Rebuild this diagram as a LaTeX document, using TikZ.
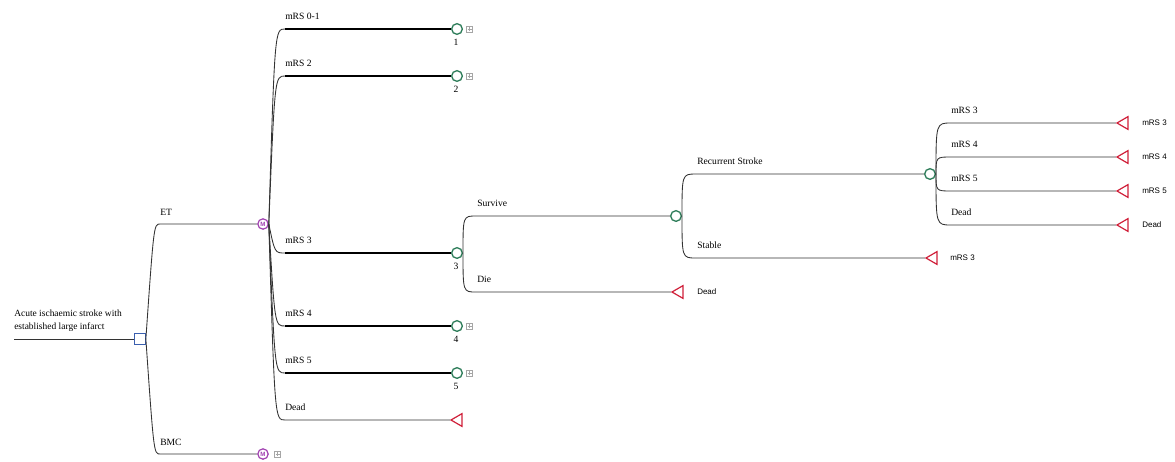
\documentclass[tikz,border=0pt]{standalone}
\usepackage{fontspec}
\setmainfont{Liberation Serif}
\setsansfont{Liberation Sans}
\usetikzlibrary{shapes.geometric,calc}
\definecolor{cgreen}{HTML}{2E7D5A}
\definecolor{cred}{HTML}{D0203A}
\definecolor{cblue}{HTML}{3A5FAF}
\definecolor{cpurple}{HTML}{A040B0}
\definecolor{cline}{HTML}{333333}
\begin{document}
\begin{tikzpicture}[x=0.75pt,y=-0.75pt,
 conn/.style={draw=cline, line width=0.65pt},
 thickbr/.style={draw=black, line width=2.2pt},
 chance/.style={circle, draw=cgreen, line width=1pt, fill=white, minimum size=8pt, inner sep=0pt},
 term/.style={regular polygon, regular polygon sides=3, shape border rotate=90, draw=cred, line width=0.9pt, fill=white, minimum size=11pt, inner sep=0pt},
 decision/.style={rectangle, draw=cblue, line width=1pt, fill=white, minimum size=7.8pt, inner sep=0pt},
 markov/.style={circle, draw=cpurple, line width=0.9pt, fill=white, minimum size=7.8pt, inner sep=0pt, text=cpurple, font=\sffamily\bfseries\fontsize{4.6}{5}\selectfont},
 plusbox/.style={rectangle, draw=gray!70, line width=0.4pt, minimum size=4.5pt, inner sep=0pt,
   path picture={\draw[gray!70, line width=0.4pt]
     ([xshift=-1.5pt]path picture bounding box.center) -- ([xshift=1.5pt]path picture bounding box.center)
     ([yshift=-1.5pt]path picture bounding box.center) -- ([yshift=1.5pt]path picture bounding box.center);}},
 lbl/.style={font=\fontsize{7.2}{8}\selectfont, anchor=west, inner sep=0pt},
 slbl/.style={font=\sffamily\fontsize{6}{7}\selectfont, anchor=west, inner sep=0pt},
 num/.style={font=\fontsize{7.2}{8}\selectfont, inner sep=0pt}
]
\useasboundingbox (0,0) rectangle (1175,461);

% ---------------- nodes ----------------
\node[lbl, anchor=south west, align=left, font=\fontsize{7.1}{9.6}\selectfont] (roottxt) at (14,332) {Acute ischaemic stroke with\\established large infarct};
\coordinate (r0) at (14,339);
\node[decision] (d) at (140,339) {};

% ET / BMC
\coordinate (sET) at (160,224);
\coordinate (sBMC) at (160,454);
\node[lbl] (lET) at (160,212) {ET};
\node[lbl] (lBMC) at (160,442) {BMC};
\node[markov] (m1) at (263,224) {M};
\node[markov] (m2) at (263,454) {M};
\node[plusbox] (pB) at (277.5,454) {};

% children of ET
\coordinate (s1) at (285,29);
\coordinate (s2) at (285,76);
\coordinate (s3) at (285,253);
\coordinate (s4) at (285,326);
\coordinate (s5) at (285,373);
\coordinate (s6) at (285,420);
\node[lbl] (l1) at (285,16) {mRS 0-1};
\node[lbl] (l2) at (285,63) {mRS 2};
\node[lbl] (l3) at (285,240) {mRS 3};
\node[lbl] (l4) at (285,313) {mRS 4};
\node[lbl] (l5) at (285,360) {mRS 5};
\node[lbl] (l6) at (285,407) {Dead};
\node[chance] (c1) at (457,29) {};
\node[chance] (c2) at (457,76) {};
\node[chance] (c3) at (457,253) {};
\node[chance] (c4) at (457,326) {};
\node[chance] (c5) at (457,373) {};
\node[term] (t1) at (458.3,420) {};
\node[num] (n1) at (456,42) {1};
\node[num] (n2) at (456,89) {2};
\node[num] (n3) at (456,266) {3};
\node[num] (n4) at (456,339) {4};
\node[num] (n5) at (456,386) {5};
\node[plusbox] (p1) at (469.5,29) {};
\node[plusbox] (p2) at (469.5,76) {};
\node[plusbox] (p4) at (469.5,326) {};
\node[plusbox] (p5) at (469.5,373) {};

% children of mRS 3
\coordinate (sSv) at (476,216);
\coordinate (sDi) at (476,292);
\node[lbl] (lSv) at (477,203) {Survive};
\node[lbl] (lDi) at (477,279) {Die};
\node[chance] (c6) at (676,216) {};
\node[term] (t2) at (679.3,292) {};
\node[slbl] (e2) at (697,292) {Dead};

% children of Survive
\coordinate (sRS) at (696,174);
\coordinate (sSt) at (696,258);
\node[lbl] (lRS) at (697,161) {Recurrent Stroke};
\node[lbl] (lSt) at (697,245) {Stable};
\node[chance] (c7) at (930,174) {};
\node[term] (t3) at (933.3,258) {};
\node[slbl] (e3) at (950,258) {mRS 3};

% children of Recurrent Stroke
\coordinate (sa) at (951,123);
\coordinate (sb) at (951,157);
\coordinate (sc) at (951,191);
\coordinate (sd) at (951,225);
\node[lbl] (la) at (951,110) {mRS 3};
\node[lbl] (lb) at (951,144) {mRS 4};
\node[lbl] (lc) at (951,178) {mRS 5};
\node[lbl] (ld) at (951,212) {Dead};
\node[term] (ta) at (1124.3,123) {};
\node[term] (tb) at (1124.3,157) {};
\node[term] (tc) at (1124.3,191) {};
\node[term] (td) at (1124.3,225) {};
\node[slbl] (ea) at (1142,123) {mRS 3};
\node[slbl] (eb) at (1142,157) {mRS 4};
\node[slbl] (ec) at (1142,191) {mRS 5};
\node[slbl] (ed) at (1142,225) {Dead};

% ---------------- connectors ----------------
\draw[conn] (r0) -- (d);
\draw[conn] (d.east) .. controls ([xshift=6pt]d.east |- sET) .. (sET) -- (m1);
\draw[conn] (d.east) .. controls ([xshift=6pt]d.east |- sBMC) .. (sBMC) -- (m2);

\foreach \s/\c in {s1/c1,s2/c2,s3/c3,s4/c4,s5/c5}{
  \draw[conn] (m1.east) .. controls ([xshift=4.5pt]m1.east |- \s) .. (\s);
  \draw[thickbr] (\s) -- (\c);
}
\draw[conn] (m1.east) .. controls ([xshift=4.5pt]m1.east |- s6) .. (s6) -- (t1);

\draw[conn] (c3.east) .. controls (c3.east |- sSv) .. (sSv) -- (c6);
\draw[conn] (c3.east) .. controls (c3.east |- sDi) .. (sDi) -- (t2);

\draw[conn] (c6.east) .. controls (c6.east |- sRS) .. (sRS) -- (c7);
\draw[conn] (c6.east) .. controls (c6.east |- sSt) .. (sSt) -- (t3);

\foreach \s/\t in {sa/ta,sb/tb,sc/tc,sd/td}{
  \draw[conn] (c7.east) .. controls (c7.east |- \s) .. (\s) -- (\t);
}
\end{tikzpicture}
\end{document}
